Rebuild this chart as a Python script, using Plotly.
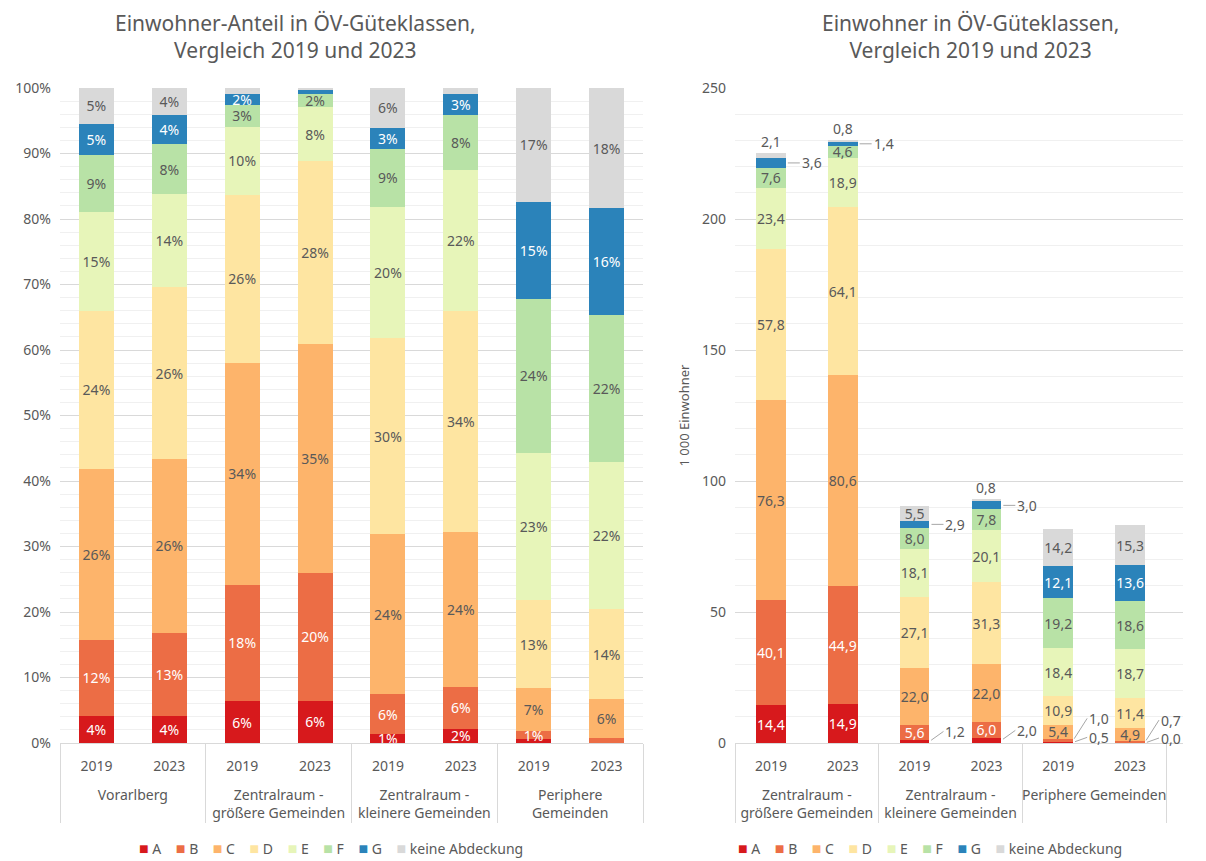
import plotly.graph_objects as go

# ---------------- data ----------------
classes = ["A", "B", "C", "D", "E", "F", "G", "keine Abdeckung"]
colors = ["#D7191C", "#EC6D45", "#FDB46B", "#FEE5A1", "#E7F5B9", "#B8E2A6", "#2B83BA", "#D9D9D9"]
light_text = [True, True, False, False, False, False, True, False]

years = ["2019", "2023"]
groups_left = ["Vorarlberg", "Zentralraum -<br>größere Gemeinden",
               "Zentralraum -<br>kleinere Gemeinden", "Periphere<br>Gemeinden"]
groups_right = ["Zentralraum -<br>größere Gemeinden", "Zentralraum -<br>kleinere Gemeinden",
                "Periphere Gemeinden"]

# shares in % (left chart), order: Vbg 19, Vbg 23, ZR gr 19, ZR gr 23, ZR kl 19, ZR kl 23, Per 19, Per 23
share_A = [4.05, 4.16, 6.39, 6.47, 1.33, 2.15, 0.61, 0.00]
share_B = [11.75, 12.70, 17.80, 19.50, 6.19, 6.45, 1.22, 0.84]
share_C = [26.09, 26.45, 33.87, 35.01, 24.34, 23.66, 6.61, 5.89]
share_D = [24.11, 26.28, 25.65, 27.85, 29.98, 33.66, 13.34, 13.70]
share_E = [15.07, 14.20, 10.39, 8.21, 20.02, 21.61, 22.52, 22.48]
share_F = [8.76, 7.63, 3.37, 2.00, 8.85, 8.39, 23.50, 22.36]
share_G = [4.68, 4.43, 1.60, 0.61, 3.21, 3.23, 14.81, 16.35]
share_keine = [5.49, 4.16, 0.93, 0.35, 6.08, 0.86, 17.38, 18.39]

# population in 1 000 (right chart), order: ZR gr 19, ZR gr 23, ZR kl 19, ZR kl 23, Per 19, Per 23
pop_A = [14.4, 14.9, 1.2, 2.0, 0.5, 0.0]
pop_B = [40.1, 44.9, 5.6, 6.0, 1.0, 0.7]
pop_C = [76.3, 80.6, 22.0, 22.0, 5.4, 4.9]
pop_D = [57.8, 64.1, 27.1, 31.3, 10.9, 11.4]
pop_E = [23.4, 18.9, 18.1, 20.1, 18.4, 18.7]
pop_F = [7.6, 4.6, 8.0, 7.8, 19.2, 18.6]
pop_G = [3.6, 1.4, 2.9, 3.0, 12.1, 13.6]
pop_keine = [2.1, 0.8, 5.5, 0.8, 14.2, 15.3]

shares = [share_A, share_B, share_C, share_D, share_E, share_F, share_G, share_keine]
pops = [pop_A, pop_B, pop_C, pop_D, pop_E, pop_F, pop_G, pop_keine]

# ---------------- style ----------------
FONT = "Noto Sans"
TXT = "#595959"
GRID = "#D9D9D9"
MINOR = "#F0F0F0"
W_LEFT = 0.48
W_RIGHT = 0.415
INSIDE_MIN = 4.5

NB = "\u00a0"
x_left = [[NB + "<br>" + g for g in groups_left for _ in years], [y for _ in groups_left for y in years]]
x_right = [[NB + "<br>" + g for g in groups_right for _ in years], [y for _ in groups_right for y in years]]

fig = go.Figure()

for k, cls in enumerate(classes):
    tc = "white" if light_text[k] else TXT
    fig.add_trace(go.Bar(
        x=x_left, y=shares[k], name=cls, marker=dict(color=colors[k], line=dict(width=0)),
        width=W_LEFT, xaxis="x", yaxis="y", showlegend=False,
        text=[f"{v:.0f}%" if v >= 1 else "" for v in shares[k]],
        textposition="inside", insidetextanchor="middle", textangle=0,
        constraintext="none", insidetextfont=dict(color=tc, size=14, family=FONT),
        hoverinfo="skip",
    ))

for k, cls in enumerate(classes):
    tc = "white" if light_text[k] else TXT
    fig.add_trace(go.Bar(
        x=x_right, y=pops[k], name=cls, marker=dict(color=colors[k], line=dict(width=0)),
        width=W_RIGHT, xaxis="x2", yaxis="y2", showlegend=False,
        text=[f"{v:.1f}".replace(".", ",") if v >= INSIDE_MIN else "" for v in pops[k]],
        textposition="inside", insidetextanchor="middle", textangle=0,
        constraintext="none", insidetextfont=dict(color=tc, size=14, family=FONT),
        hoverinfo="skip",
    ))

annotations = []
# small value labels (outside) on the right chart
n_bars = len(pop_A)
for i in range(n_bars):
    base = 0.0
    vals = [p[i] for p in pops]
    total = sum(vals)
    for k, v in enumerate(vals):
        label = f"{v:.1f}".replace(".", ",")
        if v < INSIDE_MIN:
            if classes[k] == "keine Abdeckung":
                annotations.append(dict(
                    x=i, y=total, xref="x2", yref="y2", text=label, showarrow=False,
                    yanchor="bottom", font=dict(size=14, color=TXT, family=FONT)))
            else:
                ay = 0
                if k == 0:
                    ay = -5 if vals[1] < INSIDE_MIN else -10
                elif k == 1 and vals[0] < INSIDE_MIN:
                    ay = -22
                annotations.append(dict(
                    x=i + W_RIGHT / 2, y=base + v / 2, xref="x2", yref="y2", text=label,
                    showarrow=True, arrowhead=0, arrowwidth=1, arrowcolor="#A6A6A6",
                    ax=14, ay=ay, standoff=2, xanchor="left",
                    font=dict(size=14, color=TXT, family=FONT)))
        base += v

# titles
annotations.append(dict(x=295 / 1206, y=1.078, xref="paper", yref="paper", showarrow=False,
                        text="Einwohner-Anteil in ÖV-Güteklassen,<br>Vergleich 2019 und 2023",
                        font=dict(size=21, color=TXT, family=FONT), yanchor="middle", xanchor="center"))
annotations.append(dict(x=970 / 1206, y=1.078, xref="paper", yref="paper", showarrow=False,
                        text="Einwohner in ÖV-Güteklassen,<br>Vergleich 2019 und 2023",
                        font=dict(size=21, color=TXT, family=FONT), yanchor="middle", xanchor="center"))
annotations.append(dict(x=683 / 1206, y=0.5, xref="paper", yref="paper", showarrow=False,
                        text="1 000 Einwohner", textangle=-90,
                        font=dict(size=13, color=TXT, family=FONT)))

# legends (compact, Excel style)
legend_text = (NB * 4).join(
    f"<span style='color:{c};font-size:16px'>■</span> {n}" for c, n in zip(colors, classes))
for cx in (331 / 1206, 930 / 1206):
    annotations.append(dict(x=cx, y=-(848 - 743) / 655, xref="paper", yref="paper",
                            showarrow=False, text=legend_text, xanchor="center", yanchor="middle",
                            font=dict(size=14, color=TXT, family=FONT)))

xaxis_common = dict(type="multicategory", showline=True, linecolor=GRID, linewidth=1,
                    showdividers=True, dividercolor=GRID, dividerwidth=1, automargin=False,
                    ticklabelstandoff=10,
                    tickfont=dict(size=14, color=TXT, family=FONT), ticks="", showgrid=False)

fig.update_layout(
    width=1206, height=861,
    margin=dict(l=0, r=0, t=88, b=118, autoexpand=False),
    plot_bgcolor="white", paper_bgcolor="white",
    barmode="stack",
    font=dict(family=FONT, color=TXT, size=14),
    xaxis=dict(domain=[60 / 1206, 643 / 1206], anchor="y", **xaxis_common),
    xaxis2=dict(domain=[735 / 1206, 1183 / 1206], anchor="y2", **xaxis_common),
    yaxis=dict(range=[0, 100], dtick=10, ticksuffix="%", showgrid=True, gridcolor=GRID,
               zeroline=False, anchor="x", ticklabelstandoff=8, automargin=False,
               minor=dict(dtick=2, showgrid=True, gridcolor=MINOR),
               tickfont=dict(size=14, color=TXT, family=FONT)),
    yaxis2=dict(range=[0, 250], dtick=50, showgrid=True, gridcolor=GRID,
                zeroline=False, anchor="x2", ticklabelstandoff=8, automargin=False,
                minor=dict(dtick=10, showgrid=True, gridcolor=MINOR),
                tickfont=dict(size=14, color=TXT, family=FONT)),
    annotations=annotations,
    showlegend=False,
)

fig.write_html("out.html")
